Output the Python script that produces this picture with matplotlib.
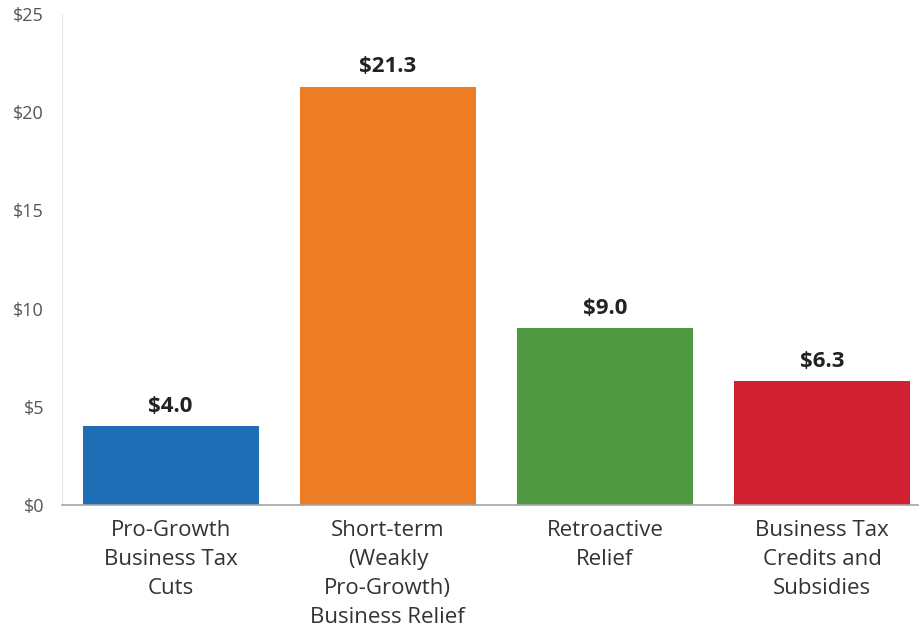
import matplotlib
matplotlib.use('Agg')
from matplotlib import pyplot as plt

plt.rcParams['font.family'] = ['Open Sans', 'DejaVu Sans']

categories = ['Pro-Growth\nBusiness Tax\nCuts',
              'Short-term\n(Weakly\nPro-Growth)\nBusiness Relief',
              'Retroactive\nRelief',
              'Business Tax\nCredits and\nSubsidies']
values = [4.0, 21.3, 9.0, 6.3]
colors = ['#1f6db5', '#ed7d25', '#4f9a41', '#d12032']
yticks = [0, 5, 10, 15, 20, 25]

fig = plt.figure(figsize=(9.2, 6.3), dpi=100)
ax = fig.add_axes([62 / 920, 125 / 630, 1 - 62 / 920, 491 / 630])

x = list(range(len(values)))
bars = ax.bar(x, values, width=0.81, color=colors, zorder=2)

# value labels above the bars
for xi, v in zip(x, values):
    ax.annotate(f'${v:.1f}', (xi, v), xytext=(0, 7), textcoords='offset points',
                ha='center', va='bottom', fontsize=16, fontweight='bold', color='#222222')

ax.set_xlim(-0.5, 3.45)
ax.set_ylim(0, 25)
ax.set_yticks(yticks)
ax.set_yticklabels([f'${t}' for t in yticks], fontsize=13, color='#555555')
ax.set_xticks(x)
ax.set_xticklabels(categories, fontsize=16, color='#333333', linespacing=1.5)
ax.tick_params(axis='both', length=0)
ax.tick_params(axis='y', pad=13)
ax.tick_params(axis='x', pad=11)

ax.spines['top'].set_visible(False)
ax.spines['right'].set_visible(False)
ax.spines['left'].set_color('#e6e6e6')
ax.spines['bottom'].set_color('#a6a6a6')
ax.spines['bottom'].set_linewidth(1.2)

fig.savefig('out.png', dpi=100)
